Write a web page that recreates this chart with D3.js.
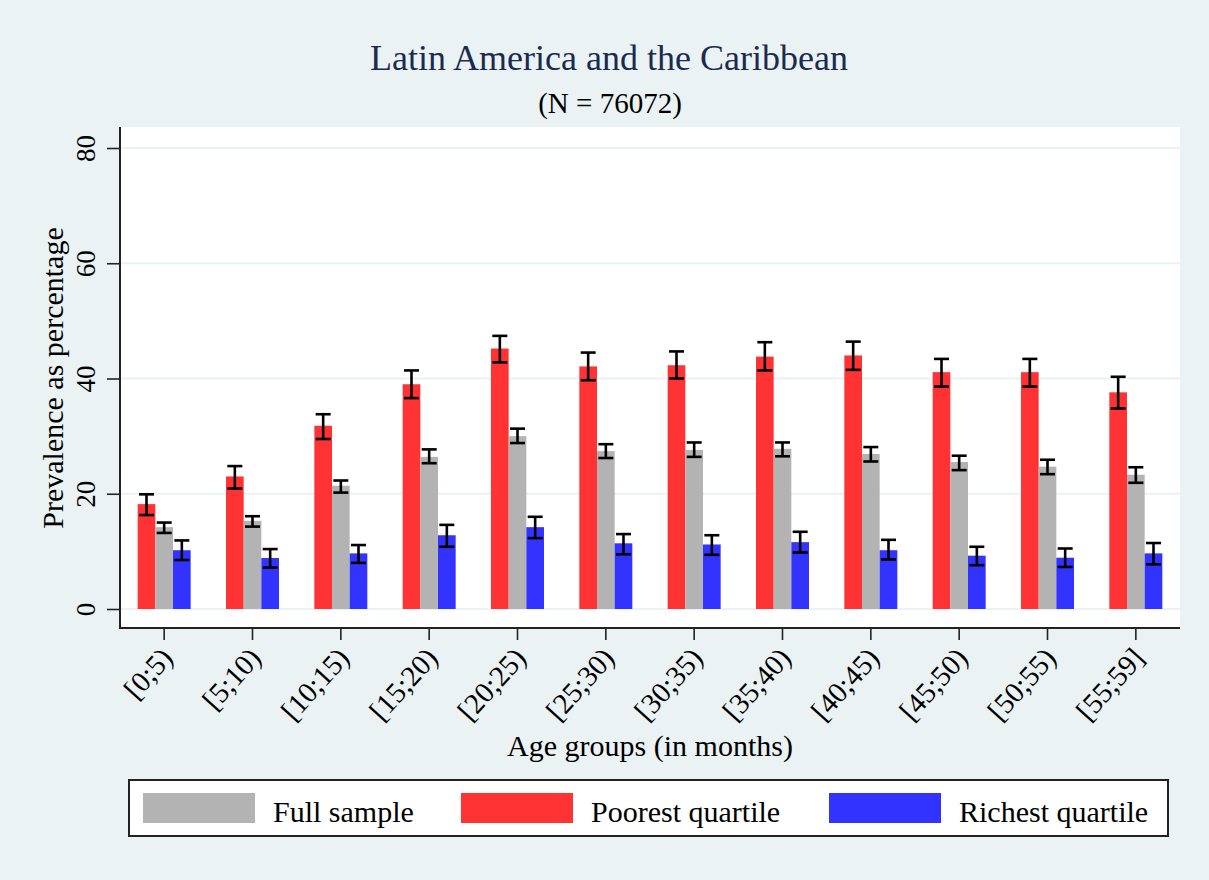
<!DOCTYPE html>
<html>
<head>
<meta charset="utf-8">
<script src="https://cdn.jsdelivr.net/npm/d3@7"></script>
<style>
  body { margin: 0; background: #eaf2f3; }
  svg { display: block; font-family: "Liberation Serif", "Times New Roman", serif; }
</style>
</head>
<body>
<svg id="chart"></svg>
<script>
// Chart size
const width = 1209;
const height = 880;
const serif = "'Liberation Serif', 'Times New Roman', serif";

// Data
const ageGroups = ["[0;5)", "[5;10)", "[10;15)", "[15;20)", "[20;25)", "[25;30)",
                   "[30;35)", "[35;40)", "[40;45)", "[45;50)", "[50;55)", "[55;59]"];

const poorest   = [18.2, 23.0, 31.8, 39.0, 45.2, 42.1, 42.3, 43.8, 44.0, 41.1, 41.1, 37.6];
const poorestLo = [16.3, 20.9, 29.5, 36.6, 42.8, 39.7, 40.0, 41.4, 41.5, 38.6, 38.6, 34.8];
const poorestHi = [19.9, 24.8, 33.8, 41.4, 47.4, 44.5, 44.7, 46.3, 46.4, 43.4, 43.4, 40.3];

const fullSample   = [14.2, 15.3, 21.4, 26.4, 30.0, 27.4, 27.6, 27.8, 26.9, 25.5, 24.7, 23.3];
const fullSampleLo = [13.2, 14.3, 20.2, 25.3, 28.8, 26.2, 26.4, 26.5, 25.6, 24.1, 23.4, 21.9];
const fullSampleHi = [15.0, 16.1, 22.3, 27.7, 31.3, 28.6, 28.9, 28.9, 28.1, 26.6, 25.9, 24.6];

const richest   = [10.2, 8.85, 9.65, 12.8, 14.2, 11.4, 11.2, 11.6, 10.2, 9.25, 8.9, 9.65];
const richestLo = [8.5, 7.2, 8.0, 10.8, 12.3, 9.5, 9.4, 9.8, 8.6, 7.6, 7.3, 7.75];
const richestHi = [11.9, 10.4, 11.1, 14.6, 16.0, 13.0, 12.8, 13.4, 12.0, 10.8, 10.5, 11.45];

const yTicks = [0, 20, 40, 60, 80];

// Series in drawing order within each group (legend order differs)
const series = [
    { key: "poorest", label: "Poorest quartile", color: "#ff3333", v: poorest, lo: poorestLo, hi: poorestHi },
    { key: "full", label: "Full sample", color: "#b3b3b3", v: fullSample, lo: fullSampleLo, hi: fullSampleHi },
    { key: "richest", label: "Richest quartile", color: "#3333ff", v: richest, lo: richestLo, hi: richestHi }
];
const legendOrder = ["full", "poorest", "richest"];

// Plot region
const plot = { left: 120, right: 1180, top: 127, bottom: 628 };

const svg = d3.select("#chart")
    .attr("width", width)
    .attr("height", height);

svg.append("rect")
    .attr("width", width).attr("height", height)
    .attr("fill", "#eaf2f3");

svg.append("rect")
    .attr("x", plot.left).attr("y", plot.top)
    .attr("width", plot.right - plot.left)
    .attr("height", plot.bottom - plot.top)
    .attr("fill", "#ffffff");

// Scales
const x0 = d3.scaleBand()
    .domain(ageGroups)
    .range([plot.left, plot.right])
    .padding(0);

const groupWidth = 53;
const x1 = d3.scaleBand()
    .domain(series.map(s => s.key))
    .range([0, groupWidth])
    .padding(0);

const y = d3.scaleLinear()
    .domain([0, 80])
    .range([609, 148]);

// Grid lines
svg.append("g")
    .selectAll("line")
    .data(yTicks)
    .join("line")
    .attr("x1", plot.left).attr("x2", plot.right)
    .attr("y1", d => y(d)).attr("y2", d => y(d))
    .attr("stroke", "#eaf2f3")
    .attr("stroke-width", 2);

// Bars
const groups = svg.append("g")
    .selectAll("g")
    .data(ageGroups)
    .join("g")
    .attr("transform", d => `translate(${x0(d) + x0.bandwidth() / 2 - groupWidth / 2},0)`);

groups.each(function(ag, i) {
    const g = d3.select(this);
    series.forEach(s => {
        g.append("rect")
            .attr("x", x1(s.key))
            .attr("y", y(s.v[i]))
            .attr("width", x1.bandwidth())
            .attr("height", y(0) - y(s.v[i]))
            .attr("fill", s.color);
    });
    // Error bars
    series.forEach(s => {
        const cx = x1(s.key) + x1.bandwidth() / 2;
        const cap = 7.5;
        const eb = g.append("g")
            .attr("stroke", "#000")
            .attr("stroke-width", 2.6);
        eb.append("line")
            .attr("x1", cx).attr("x2", cx)
            .attr("y1", y(s.hi[i])).attr("y2", y(s.lo[i]));
        eb.append("line")
            .attr("x1", cx - cap).attr("x2", cx + cap)
            .attr("y1", y(s.hi[i])).attr("y2", y(s.hi[i]));
        eb.append("line")
            .attr("x1", cx - cap).attr("x2", cx + cap)
            .attr("y1", y(s.lo[i])).attr("y2", y(s.lo[i]));
    });
});

// Y axis
const yAxis = d3.axisLeft(y)
    .tickValues(yTicks)
    .tickSize(13)
    .tickSizeOuter(0)
    .tickPadding(4);

const gY = svg.append("g")
    .attr("transform", `translate(${plot.left},0)`)
    .call(yAxis)
    .attr("font-family", serif);
gY.select(".domain").remove();
gY.selectAll(".tick line").attr("stroke", "#222").attr("stroke-width", 1.6);
gY.selectAll(".tick text")
    .attr("font-size", 27)
    .attr("fill", "#000")
    .attr("text-anchor", "middle")
    .attr("x", 0)
    .attr("dy", 0)
    .attr("transform", "translate(-25,0) rotate(-90)");

svg.append("line")
    .attr("x1", plot.left).attr("x2", plot.left)
    .attr("y1", plot.top).attr("y2", plot.bottom + 1)
    .attr("stroke", "#222").attr("stroke-width", 2);

// X axis
const xAxis = d3.axisBottom(x0)
    .tickSize(12)
    .tickSizeOuter(0);

const gX = svg.append("g")
    .attr("transform", `translate(0,${plot.bottom})`)
    .call(xAxis)
    .attr("font-family", serif);
gX.select(".domain").remove();
gX.selectAll(".tick line").attr("stroke", "#222").attr("stroke-width", 1.6);
gX.selectAll(".tick text")
    .attr("font-size", 29)
    .attr("fill", "#000")
    .attr("text-anchor", "end")
    .attr("y", 0)
    .attr("dy", 0)
    .attr("transform", "translate(10,31) rotate(-48)");

svg.append("line")
    .attr("x1", plot.left - 1).attr("x2", plot.right)
    .attr("y1", plot.bottom).attr("y2", plot.bottom)
    .attr("stroke", "#222").attr("stroke-width", 2);

// Titles
svg.append("text")
    .attr("x", 609).attr("y", 70)
    .attr("text-anchor", "middle")
    .attr("font-size", 36)
    .attr("fill", "#1b2a50")
    .text("Latin America and the Caribbean");

svg.append("text")
    .attr("x", 610).attr("y", 113)
    .attr("text-anchor", "middle")
    .attr("font-size", 29)
    .attr("fill", "#000")
    .text("(N = 76072)");

svg.append("text")
    .attr("transform", "translate(63,378) rotate(-90)")
    .attr("text-anchor", "middle")
    .attr("font-size", 30)
    .attr("fill", "#000")
    .text("Prevalence as percentage");

svg.append("text")
    .attr("x", 650).attr("y", 756)
    .attr("text-anchor", "middle")
    .attr("font-size", 30)
    .attr("fill", "#000")
    .text("Age groups (in months)");

// Legend
const legend = svg.append("g");
legend.append("rect")
    .attr("x", 129).attr("y", 780)
    .attr("width", 1039).attr("height", 56)
    .attr("fill", "#fff")
    .attr("stroke", "#222")
    .attr("stroke-width", 2);

const legendX = { full: 143, poorest: 461, richest: 829 };

legendOrder.forEach(k => {
    const s = series.find(d => d.key === k);
    const lx = legendX[k];
    legend.append("rect")
        .attr("x", lx).attr("y", 793)
        .attr("width", 112).attr("height", 30)
        .attr("fill", s.color);
    legend.append("text")
        .attr("x", lx + 130).attr("y", 822)
        .attr("font-size", 30)
        .attr("fill", "#000")
        .text(s.label);
});
</script>
</body>
</html>
